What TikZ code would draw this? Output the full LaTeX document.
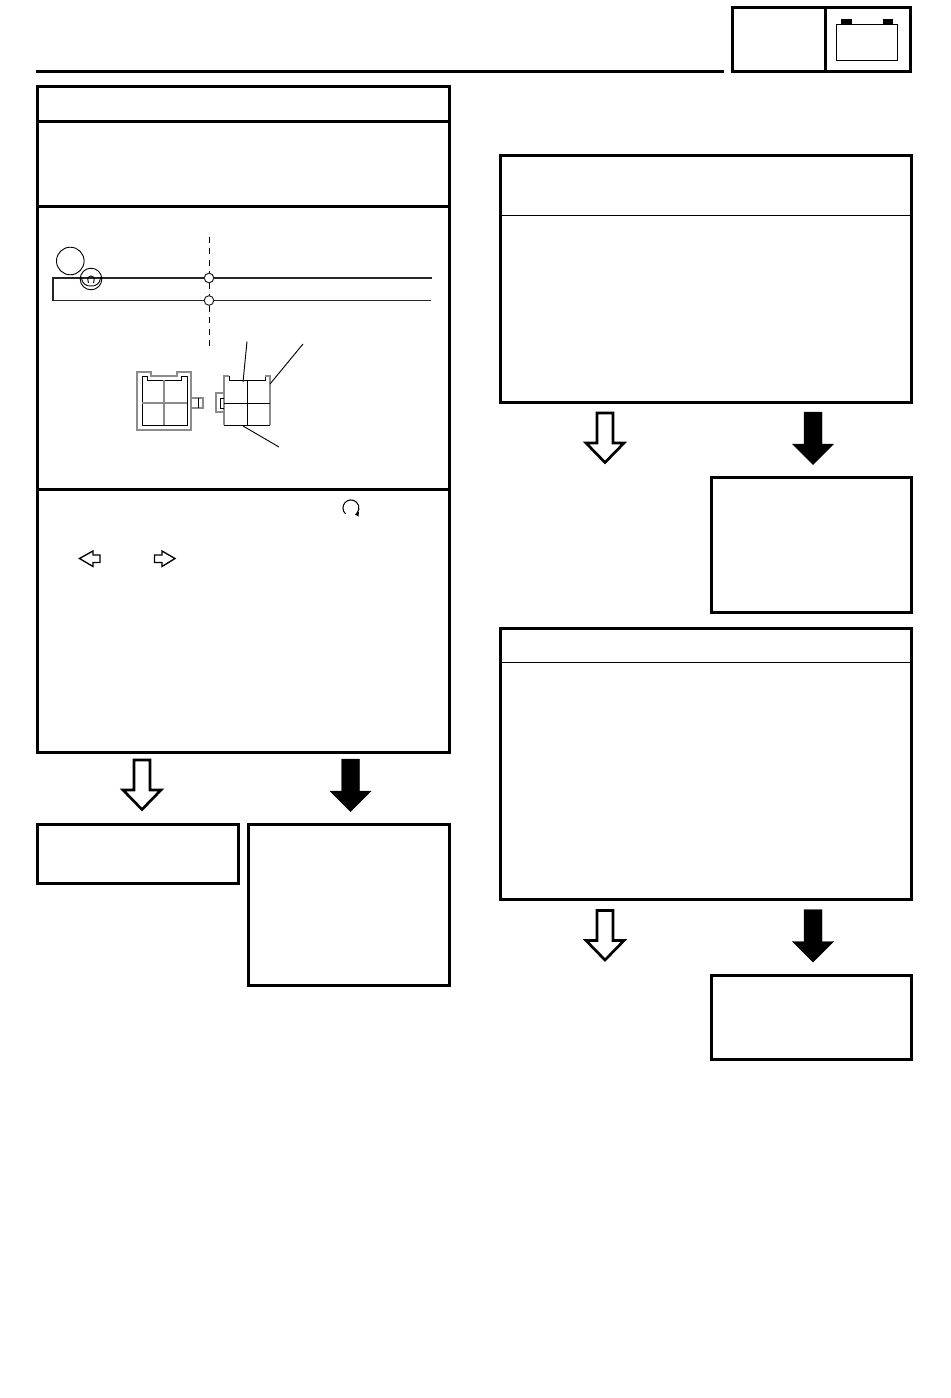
\documentclass[tikz,border=0pt]{standalone}
\usetikzlibrary{arrows.meta}
\tikzset{
  x=0.75pt,y=-0.75pt,
  heavy/.style={draw=black,line width=2.25pt},
  hair/.style={draw=black,line width=0.75pt},
  fine/.style={draw=black,line width=0.7pt},
  grey/.style={draw=black!45,line width=1pt},
  wire/.style={draw=black!85,line width=0.85pt},
  junction/.style={draw=black!85,fill=white,line width=0.75pt},
  openarrow/.style={draw=black,fill=white,line width=2pt,miter limit=10},
  solidarrow/.style={draw=black,fill=black,line width=0.3pt},
  smallarrow/.style={draw=black,fill=white,line width=1pt},
}
\newcommand{\openDown}[2]{\path[openarrow] (#1-8,#2) -- (#1+8,#2) -- (#1+8,#2+30) -- (#1+19,#2+30) -- (#1,#2+49.5) -- (#1-19,#2+30) -- (#1-8,#2+30) -- cycle;}
\newcommand{\solidDown}[2]{\path[solidarrow] (#1-9,#2) -- (#1+9,#2) -- (#1+9,#2+32) -- (#1+20.5,#2+32) -- (#1,#2+52.5) -- (#1-20.5,#2+32) -- (#1-9,#2+32) -- cycle;}
\begin{document}
\begin{tikzpicture}
\useasboundingbox (0,0) rectangle (950,1398);
% header
\draw[heavy] (36,71.5) -- (724,71.5);
\draw[heavy] (732.5,7.5) rectangle (910.5,71.5);
\draw[heavy] (825.5,7.5) -- (825.5,71.5);
\draw[fine] (836.3,24.3) rectangle (897.7,60.5);
\fill[black] (841,19) rectangle (852,24);
\fill[black] (883,19) rectangle (893,24);
% left main box
\draw[heavy] (37.5,87) rectangle (449,752);
\draw[heavy] (37.5,121.5) -- (449,121.5);
\draw[heavy] (37.5,206.5) -- (449,206.5);
\draw[heavy] (37.5,489.5) -- (449,489.5);
% wiring
\draw[wire] (432,278) -- (53,278) -- (53,300.5) -- (431,300.5);
\draw[fine,dash pattern=on 4.5pt off 4.08pt] (209,237) -- (209,346);
\draw[junction] (209,278) circle[radius=4.8];
\draw[junction] (209,300.5) circle[radius=4.8];
\draw[fine] (70.3,261) circle[radius=13.8];
\draw[fine] (91,279) circle[radius=10.8];
\draw[fine] (81.5,277) .. controls (82,285) and (87,286) .. (91,286) .. controls (95,286) and (100,285) .. (100.5,277);
\draw[fine] (88.5,283) .. controls (86.5,277) and (89,276) .. (91,276) .. controls (93,276) and (95.5,277) .. (93.5,283);
% left connector
\draw[grey] (137,430) -- (137,372) -- (151,372) -- (151,376) -- (177,376) -- (177,372) -- (191,372) -- (191,430) -- cycle;
\draw[fine] (142,425) -- (142,376) -- (147,376) -- (147,380) -- (181,380) -- (181,376) -- (187,376) -- (187,425) -- cycle;
\draw[grey] (164,380) -- (164,425);
\draw[grey] (142,403) -- (187,403);
\draw[grey] (191,398) rectangle (203,408);
\draw[fine] (198.5,398) -- (198.5,408);
% right connector
\draw[fine] (224,425) -- (270,425);
\draw[grey] (224,425) -- (224,376) -- (229,376);
\draw[fine] (229,376) -- (229,380) -- (265,380) -- (265,376);
\draw[grey] (265,376) -- (270,376) -- (270,425);
\draw[fine] (247,380) -- (247,425);
\draw[fine] (224,403) -- (270,403);
\draw[grey] (224,393) -- (216,393) -- (216,412) -- (224,412);
\draw[fine] (224,398) -- (220,398) -- (220,408) -- (224,408);
% leaders
\draw[fine] (247,341.5) -- (243,382);
\draw[fine] (303,344) -- (270,384);
\draw[fine] (243,426) -- (279,447);
% symbols in the text
\draw[fine,line width=0.8pt] (345.6,513.9) arc[start angle=132,end angle=405,radius=8];
\fill[black] (359,511.5) -- (358.5,516.5) -- (355,514.5) -- cycle;
\path[smallarrow] (79.5,558.5) -- (93,551) -- (93,555) -- (100,555) -- (100,562.5) -- (93,562.5) -- (93,566.5) -- cycle;
\path[smallarrow] (175,558.5) -- (162,551) -- (162,555) -- (154.5,555) -- (154.5,562.5) -- (162,562.5) -- (162,566.5) -- cycle;
% left lower boxes
\openDown{142}{760}
\solidDown{350.5}{759}
\draw[heavy] (37.5,824) rectangle (238,883.5);
\draw[heavy] (248.5,824) rectangle (449,985);
% right column
\draw[heavy] (500.5,155.5) rectangle (911.5,402.5);
\draw[hair] (500.5,215.5) -- (911.5,215.5);
\openDown{605}{413}
\solidDown{813}{412}
\draw[heavy] (711.5,477) rectangle (911.5,612.5);
\draw[heavy] (500.5,628) rectangle (911.5,899.5);
\draw[hair] (500.5,662.5) -- (911.5,662.5);
\openDown{605}{910.5}
\solidDown{813}{909.5}
\draw[heavy] (711.5,975) rectangle (911.5,1059.5);
\end{tikzpicture}
\end{document}
